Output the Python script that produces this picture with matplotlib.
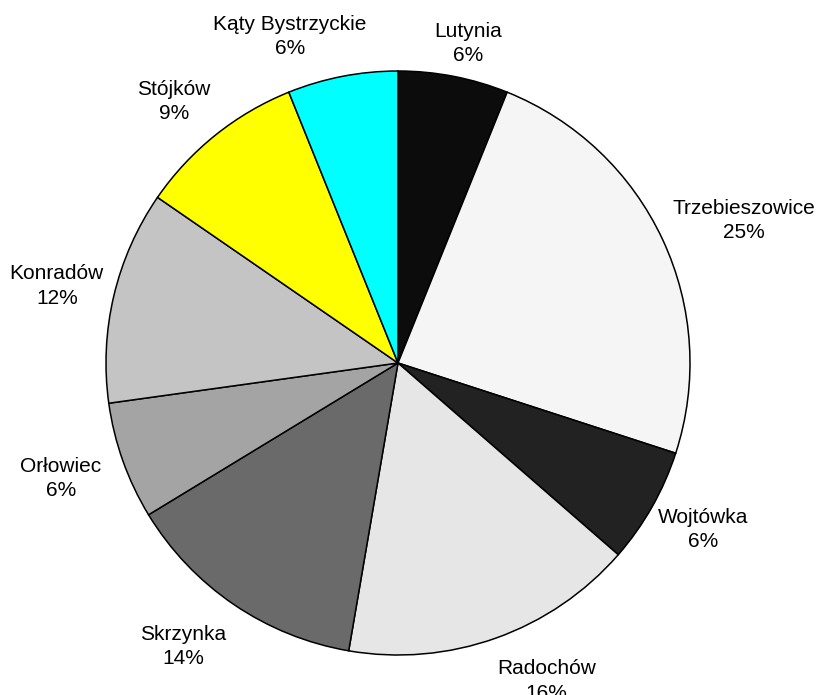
import matplotlib
matplotlib.use("Agg")
import matplotlib.pyplot as plt
import numpy as np

plt.rcParams['font.family'] = ['Liberation Sans', 'DejaVu Sans']

# shares, labels as printed on the chart
places = ["Lutynia", "Trzebieszowice", "Wojtówka", "Radochów", "Skrzynka",
          "Orłowiec", "Konradów", "Stójków", "Kąty Bystrzyckie"]
shares = [6.1, 23.9, 6.4, 16.3, 13.6, 6.5, 11.8, 9.3, 6.1]
pct_labels = ["6%", "25%", "6%", "16%", "14%", "6%", "12%", "9%", "6%"]
colors = ["#0c0c0c", "#f5f5f5", "#222222", "#e6e6e6", "#6a6a6a",
          "#a4a4a4", "#c4c4c4", "#ffff00", "#00ffff"]
# small label nudges (pixels), like excel's manual label placement
nudge = [(8, -3), (6, -16), (0, 6), (35, 0), (-22, 0),
         (-11, 1), (1, -4), (-11, -4), (-44, -4)]

W, H = 817, 695
fig = plt.figure(figsize=(W / 100, H / 100), dpi=100)
ax = fig.add_axes([106 / W, 40 / H, 584 / W, 584 / H])

wedges, _ = ax.pie(shares, colors=colors, startangle=90, counterclock=False,
                   radius=1.0, wedgeprops=dict(edgecolor="black", linewidth=1.1))
ax.set_xlim(-1, 1)
ax.set_ylim(-1, 1)
ax.set_aspect("equal")
ax.axis("off")

fig.canvas.draw()
renderer = fig.canvas.get_renderer()
px = 292.0
gap = 0.03
for w, name, pct, (nx, ny) in zip(wedges, places, pct_labels, nudge):
    mid = np.deg2rad((w.theta1 + w.theta2) / 2)
    t = ax.text(0, 0, f"{name}\n{pct}", ha="center", va="center",
                fontsize=15, linespacing=1.35, clip_on=False)
    bb = t.get_window_extent(renderer)
    c, s = np.cos(mid), np.sin(mid)
    d = 1.0 + gap + bb.width / 2 / px * abs(c) + bb.height / 2 / px * abs(s)
    t.set_position((d * c + nx / px, d * s + ny / px))

fig.savefig("out.png", dpi=100)
